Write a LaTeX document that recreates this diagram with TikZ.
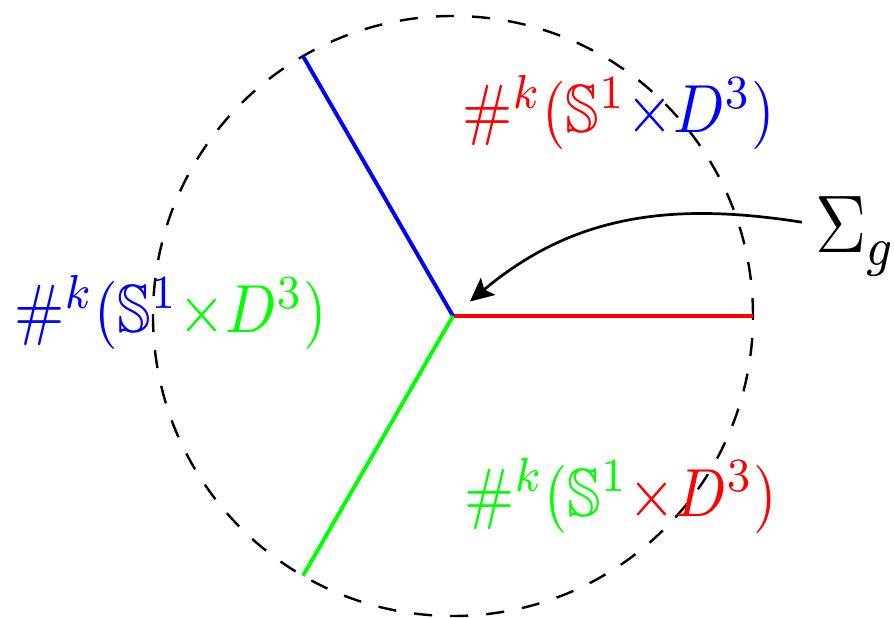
\documentclass[tikz,border=0pt]{standalone}
\usepackage{amssymb}
\usepackage{graphicx}
\usetikzlibrary{arrows.meta}
\definecolor{gr}{RGB}{0,255,0}
\definecolor{rd}{RGB}{255,0,0}
\definecolor{bl}{RGB}{0,0,255}
\tikzset{
  arm/.style={line width=0.65pt},
  bdry/.style={dashed, line width=0.4pt},
  lbl/.style={inner sep=0pt, anchor=base west},
  ptr/.style={-{Stealth[length=3.9pt,width=3.7pt,inset=0.8pt]}, line width=0.45pt},
}
\newcommand{\vstr}[1]{\scalebox{1}[1.13]{#1}}
\newcommand{\msum}[2]{\vstr{$\textcolor{#1}{\#^k(\mathbb{S}^1}\textcolor{#2}{\times D^3)}$}}
\begin{document}
\begin{tikzpicture}[x=0.0058333cm,y=0.0058333cm]
\useasboundingbox (-453,-302) rectangle (441,316);
\coordinate (O) at (0,0);
\coordinate (R) at (0:300);
\coordinate (B) at (120:300);
\coordinate (G) at (240:300);
\draw[bdry] (O) circle (300);
\draw[arm, rd] (O) -- (R);
\draw[arm, bl] (O) -- (B);
\draw[arm, gr] (O) -- (G);
\node[lbl] (tl) at (8,183) {\msum{rd}{bl}};
\node[lbl] (ll) at (-440,-17) {\msum{bl}{gr}};
\node[lbl] (bl) at (10,-200.5) {\msum{gr}{rd}};
\node[lbl] (sg) at (361,63) {\vstr{\large$\Sigma_g$}};
\coordinate (tip) at (17,14.5);
\draw[ptr] ([shift={(-2pt,5.1pt)}]sg.base west) to[out=171, in=40] (tip);
\end{tikzpicture}
\end{document}
